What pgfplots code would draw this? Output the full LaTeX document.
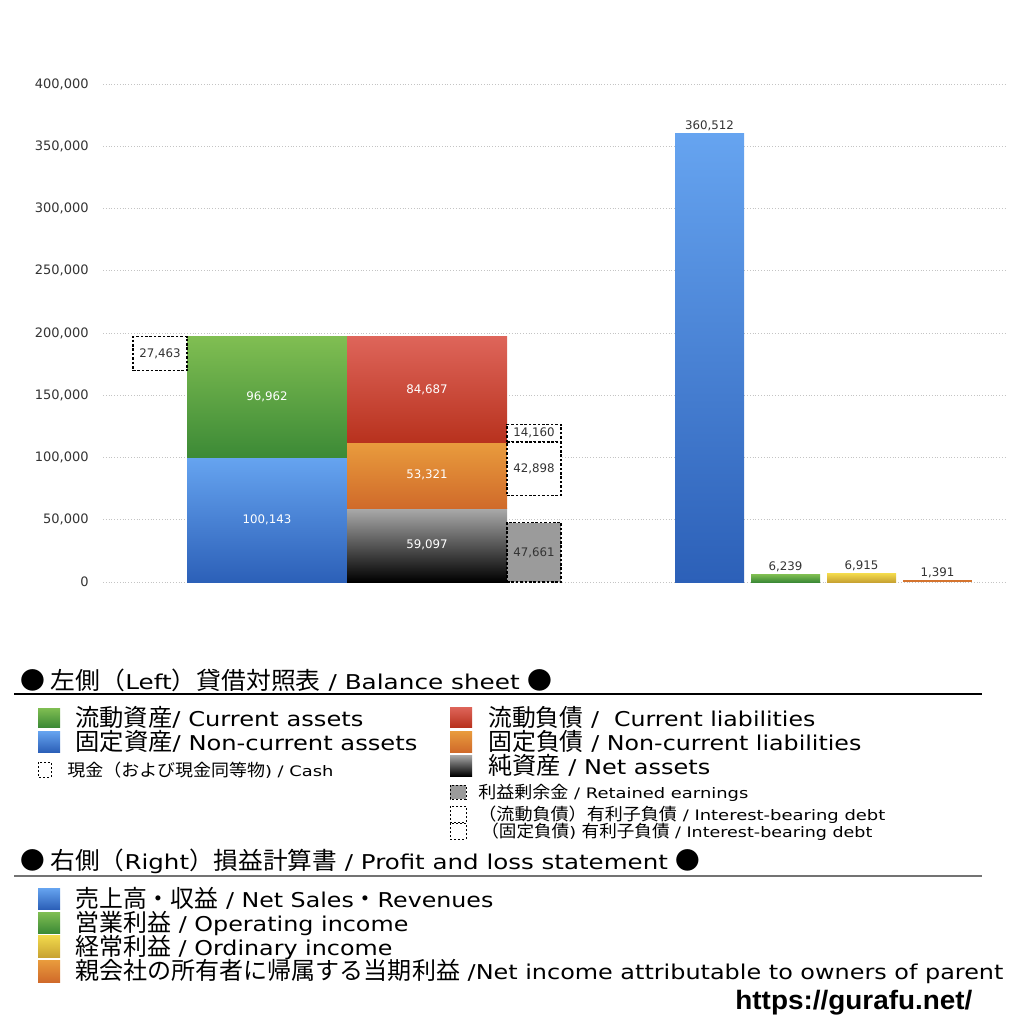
\documentclass[border=0pt]{standalone}
\usepackage{pgfplots}
\pgfplotsset{compat=1.18}
\usepackage{fontspec}
\usepackage{graphicx}
\setmainfont{DejaVu Sans}[Scale=0.85, FakeStretch=1.17]
\newfontfamily\cjk{Noto Sans CJK JP}
\newfontfamily\numf{DejaVu Sans}
\newfontfamily\urlf{Liberation Sans}

\definecolor{gTop}{HTML}{80BE52}
\definecolor{gBot}{HTML}{3C8A36}
\definecolor{bTop}{HTML}{66A4F0}
\definecolor{bBot}{HTML}{2C60B8}
\definecolor{rTop}{HTML}{DE655A}
\definecolor{rBot}{HTML}{B8321E}
\definecolor{oTop}{HTML}{E99C3D}
\definecolor{oBot}{HTML}{D06A2A}
\definecolor{kTop}{HTML}{AAAAAA}
\definecolor{kBot}{HTML}{000000}
\definecolor{yTop}{HTML}{F3DA4C}
\definecolor{yBot}{HTML}{C8A332}
\definecolor{retc}{HTML}{9B9B9B}
\definecolor{gridc}{HTML}{C4C4C4}
\definecolor{labc}{HTML}{333333}

\newdimen\pxu \pxu=0.5pt
% legend text: x, y centre (px), size (pt), width (px), text
\newcommand\legtext[5]{%
  \node[anchor=base west, inner sep=0pt] at (#1,{#2+0.76*#3})
    {\resizebox{#4\pxu}{\height}{\fontsize{#3}{#3}\selectfont #5}};}
\newcommand\boxlab[3]{\node[font=\numf\fontsize{5.9}{6}\selectfont, text=#3] at (axis cs:#1) {#2};}

\pgfplotsset{
  plbar/.style={ybar, bar width=69, bar shift=0pt, draw=none, mark=none,
    nodes near coords={#1},
    nodes near coords style={font=\numf\fontsize{5.9}{6}\selectfont, text=labc, inner sep=1.2pt}},
  dbox/.style={draw=black, mark=none, line width=0.6pt, dash pattern=on 1.3pt off 0.9pt},
}

\begin{document}
\begin{tikzpicture}
\path[use as bounding box] (0,0) rectangle (512pt,-512pt);
\begin{axis}[
    at={(51.5pt,-291pt)}, anchor=south west,
    scale only axis, width=452pt, height=249pt,
    xmin=103, xmax=1007, ymin=0, ymax=400000,
    axis line style={draw=none},
    xtick=\empty,
    ytick={0,50000,...,400000},
    scaled y ticks=false,
    major tick length=0pt,
    ymajorgrids,
    grid style={densely dotted, color=gridc, line width=0.5pt},
    yticklabel style={font=\numf\fontsize{6.5}{7}\selectfont, text=labc, inner sep=0pt, xshift=-7pt},
    /pgf/number format/fixed,
    /pgf/number format/precision=0,
    /pgf/number format/1000 sep={,},
    /pgf/number format/assume math mode=true,
    clip=false,
  ]
  % left: balance sheet
  %% non-current assets
  \addplot[ybar, bar width=160, bar shift=0pt, draw=none, mark=none,
    top color=bTop, bottom color=bBot] coordinates {(267,100143)};
  %% current assets
  \addplot[draw=none, mark=none, top color=gTop, bottom color=gBot]
    coordinates {(187,100143) (347,100143) (347,197105) (187,197105)} -- cycle;
  %% cash
  \addplot[dbox, fill=white]
    coordinates {(133,169642) (187,169642) (187,197105) (133,197105)} -- cycle;
  %% net assets
  \addplot[ybar, bar width=160, bar shift=0pt, draw=none, mark=none,
    top color=kTop, bottom color=kBot] coordinates {(427,59097)};
  %% non-current liabilities
  \addplot[draw=none, mark=none, top color=oTop, bottom color=oBot]
    coordinates {(347,59097) (507,59097) (507,112418) (347,112418)} -- cycle;
  %% current liabilities
  \addplot[draw=none, mark=none, top color=rTop, bottom color=rBot]
    coordinates {(347,112418) (507,112418) (507,197105) (347,197105)} -- cycle;
  %% retained earnings
  \addplot[dbox, fill=retc]
    coordinates {(507,0) (561,0) (561,47661) (507,47661)} -- cycle;
  %% interest-bearing debt (current / non-current)
  \addplot[dbox, fill=white]
    coordinates {(507,112418) (561,112418) (561,126578) (507,126578)} -- cycle;
  \addplot[dbox, fill=white]
    coordinates {(507,69520) (561,69520) (561,112418) (507,112418)} -- cycle;

  \boxlab{267,50071}{100,143}{white}
  \boxlab{267,148624}{96,962}{white}
  \boxlab{160,183374}{27,463}{labc}
  \boxlab{427,29548}{59,097}{white}
  \boxlab{427,85757}{53,321}{white}
  \boxlab{427,154761}{84,687}{white}
  \boxlab{534,23830}{47,661}{labc}
  \boxlab{534,119498}{14,160}{labc}
  \boxlab{534,90969}{42,898}{labc}

  % right: profit and loss
  \addplot[plbar={360,512}, top color=bTop, bottom color=bBot] coordinates {(709.5,360512)};
  \addplot[plbar={6,239}, top color=gTop, bottom color=gBot] coordinates {(785.5,6239)};
  \addplot[plbar={6,915}, top color=yTop, bottom color=yBot] coordinates {(861.5,6915)};
  \addplot[plbar={1,391}, fill=oBot!80!oTop] coordinates {(937.5,1391)};
\end{axis}

\begin{scope}[x=0.5pt, y=-0.5pt]
  % balance sheet legend
  \legtext{20}{680}{12}{532}{{\cjk ● 左側（}Left{\cjk ）貸借対照表} / Balance sheet {\cjk ●}}
  \draw[black, line width=0.8pt] (14,694) -- (982,694);
  \shade[top color=gTop, bottom color=gBot] (38,708) rectangle (60,727);
  \legtext{75}{717}{12}{288}{{\cjk 流動資産}/ Current assets}
  \shade[top color=bTop, bottom color=bBot] (38,731) rectangle (60,752);
  \legtext{75}{741}{12}{342}{{\cjk 固定資産}/ Non-current assets}
  \draw[black, line width=0.5pt, dash pattern=on 1pt off 1pt] (38,762) rectangle (51,777);
  \legtext{67}{770}{8.5}{266}{{\cjk 現金（および現金同等物}) / Cash}
  \shade[top color=rTop, bottom color=rBot] (450,707) rectangle (472,727);
  \legtext{488}{717}{12}{327}{{\cjk 流動負債} /\ \ Current liabilities}
  \shade[top color=oTop, bottom color=oBot] (450,731) rectangle (472,752);
  \legtext{488}{741}{12}{373}{{\cjk 固定負債} / Non-current liabilities}
  \shade[top color=kTop, bottom color=kBot] (450,755) rectangle (472,776);
  \legtext{488}{765}{12}{222}{{\cjk 純資産} / Net assets}
  \filldraw[fill=retc, draw=black, line width=0.5pt, dash pattern=on 1pt off 1pt] (450,785) rectangle (466,799);
  \legtext{478}{792}{8.5}{270}{{\cjk 利益剰余金} / Retained earnings}
  \draw[black, line width=0.5pt, dash pattern=on 1pt off 1pt] (450,806) rectangle (466,822);
  \legtext{478}{814}{8.5}{407}{{\cjk （流動負債）有利子負債} / Interest-bearing debt}
  \draw[black, line width=0.5pt, dash pattern=on 1pt off 1pt] (450,823) rectangle (466,839);
  \legtext{481}{831}{8.5}{391}{{\cjk （固定負債}) {\cjk 有利子負債} / Interest-bearing debt}
  % profit and loss legend
  \legtext{20}{860}{12}{680}{{\cjk ● 右側（}Right{\cjk ）損益計算書} / Profit and loss statement {\cjk ●}}
  \draw[black!55, line width=1pt] (14,876) -- (982,876);
  \shade[top color=bTop, bottom color=bBot] (38,888) rectangle (60,909);
  \legtext{75}{898}{12}{418}{{\cjk 売上高・収益} / Net Sales{\cjk ・}Revenues}
  \shade[top color=gTop, bottom color=gBot] (38,912) rectangle (60,933);
  \legtext{75}{922}{12}{333}{{\cjk 営業利益} / Operating income}
  \shade[top color=yTop, bottom color=yBot] (38,935) rectangle (60,957);
  \legtext{75}{946}{12}{317}{{\cjk 経常利益} / Ordinary income}
  \shade[top color=oTop, bottom color=oBot] (38,960) rectangle (60,982);
  \legtext{75}{970}{12}{928}{{\cjk 親会社の所有者に帰属する当期利益} /Net income attributable to owners of parent}
  \node[anchor=base west, inner sep=0pt] at (735,1009)
    {\resizebox{237\pxu}{\height}{\urlf\fontsize{13.3}{14}\selectfont\bfseries https://gurafu.net/}};
\end{scope}
\end{tikzpicture}
\end{document}
